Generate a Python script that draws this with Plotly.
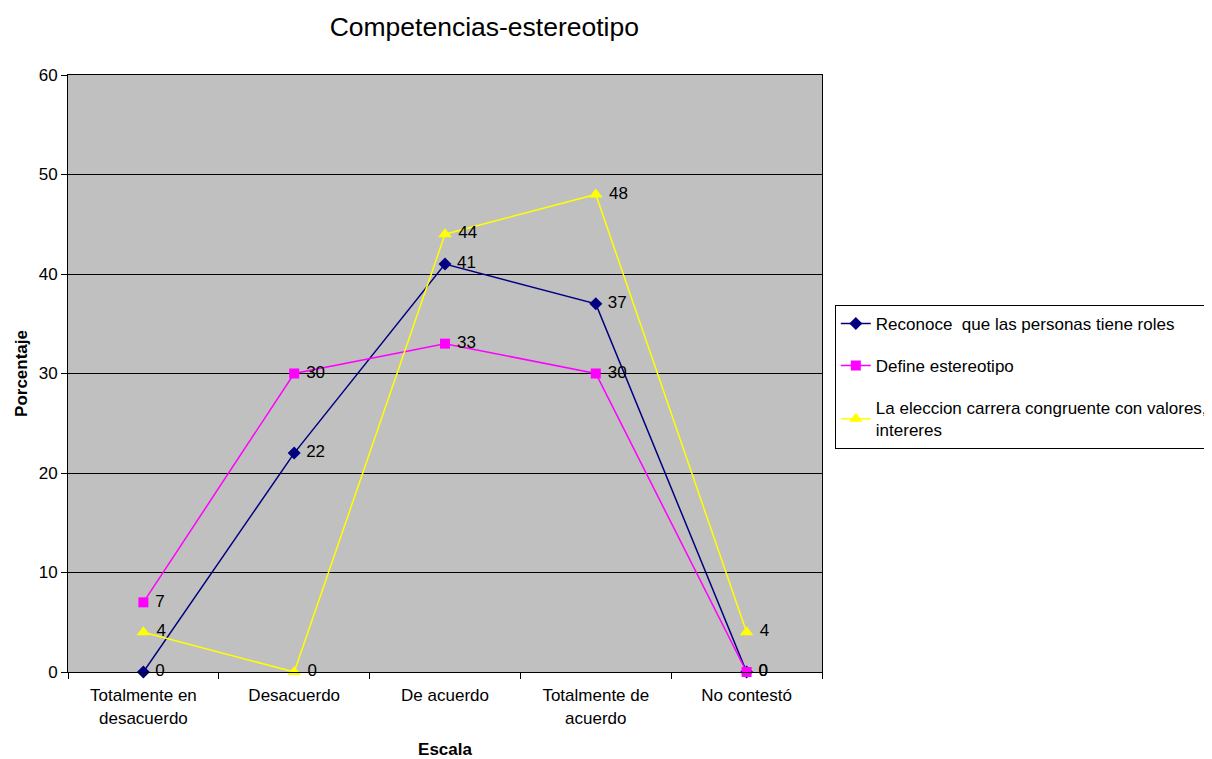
import plotly.graph_objects as go

categories = ["Totalmente en<br>desacuerdo", "Desacuerdo", "De acuerdo", "Totalmente de<br>acuerdo", "No contestó"]
reconoce = [0, 22, 41, 37, 0]
define = [7, 30, 33, 30, 0]
eleccion = [4, 0, 44, 48, 4]
series_names = ["Reconoce  que las personas tiene roles", "Define estereotipo",
                "La eleccion carrera congruente con valores,<br>intereres"]

font = "Liberation Sans, Arial, sans-serif"
fig = go.Figure()
specs = [
    (reconoce, series_names[0], "#000080", "diamond", 10),
    (define, series_names[1], "#FF00FF", "square", 10),
    (eleccion, series_names[2], "#FFFF00", "triangle-up", 12),
]
for i, (vals, name, color, sym, size) in enumerate(specs):
    fig.add_trace(go.Scatter(
        x=categories, y=vals, name=name, legendgroup=f"g{i}",
        mode="lines+markers+text",
        line=dict(color=color, width=1.5),
        marker=dict(symbol=sym, size=size, color=color),
        text=[" " + str(v) for v in vals], textposition="middle right",
        textfont=dict(family=font, size=17, color="black"),
        cliponaxis=False,
    ))

fig.update_layout(
    width=1212, height=759,
    margin=dict(l=60, r=398, t=67, b=95, autoexpand=False),
    paper_bgcolor="white", plot_bgcolor="#C0C0C0",
    font=dict(family=font, size=17, color="black"),
    title=dict(text="Competencias-estereotipo", x=0.393, xanchor="center",
               y=0.975, yanchor="middle", font=dict(size=26.5, family=font)),
    showlegend=True,
    legend=dict(x=1.017, xanchor="left", y=0.615, yanchor="top",
                bordercolor="black", borderwidth=1, bgcolor="white",
                font=dict(size=17, family=font), tracegroupgap=17,
                itemwidth=30),
)
fig.update_xaxes(
    type="category", range=[-0.5, 4.5], tickson="boundaries",
    ticks="outside", ticklen=6, tickcolor="black", ticklabelstandoff=8,
    showline=True, linecolor="black", linewidth=1, mirror=True,
    showgrid=False,
    title=dict(text="<b>Escala</b>", font=dict(size=17), standoff=16),
)
fig.update_yaxes(
    range=[0, 60], dtick=10, ticks="outside", ticklen=6, tickcolor="black",
    showline=True, linecolor="black", linewidth=1, mirror=True,
    showgrid=True, gridcolor="black", gridwidth=1, zeroline=False,
    title=dict(text="<b>Porcentaje</b>", font=dict(size=17), standoff=6),
)
fig.write_html("out.html")
